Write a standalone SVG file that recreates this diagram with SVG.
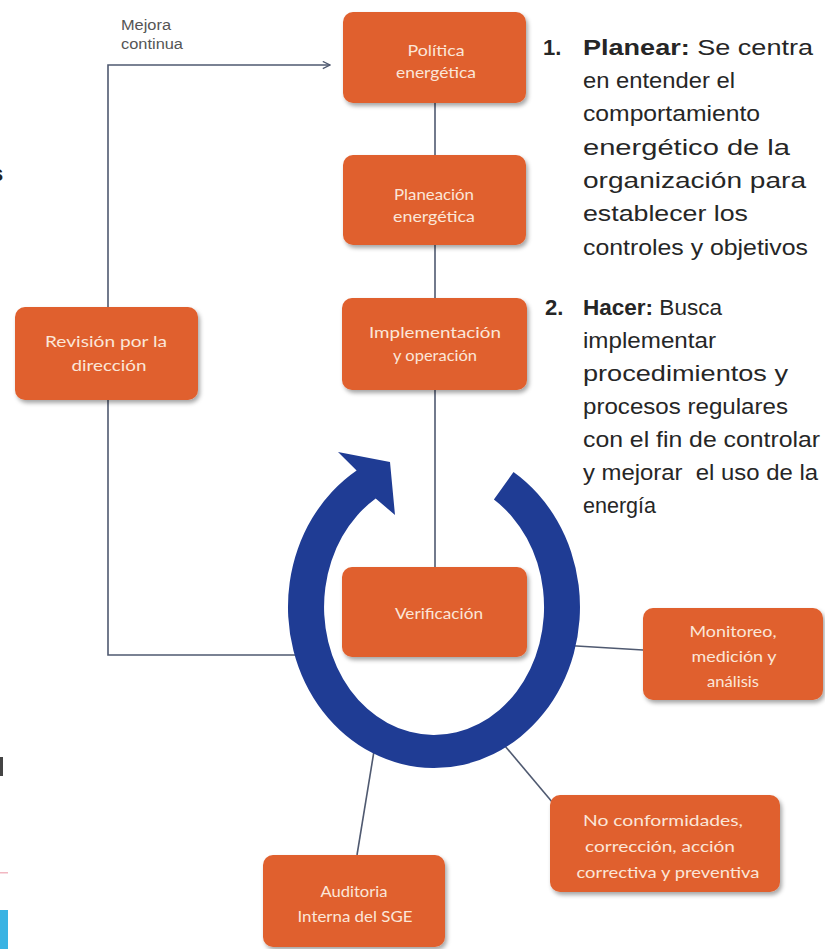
<svg xmlns="http://www.w3.org/2000/svg" width="825" height="949" viewBox="0 0 825 949">
  <style>
    .box { fill: #e0612f; filter: url(#shadow); }
    .lbl { font-family: Lato, "Open Sans", "Liberation Sans", sans-serif; font-size: 15px; fill: #fbe6d8; text-anchor: middle; lengthAdjust: spacingAndGlyphs; }
    .conn { fill: none; stroke: #4f5970; stroke-width: 1.6; }
    .note { font-family: "Liberation Sans", Arial, sans-serif; font-size: 22px; fill: #262626; }
    .num { font-weight: bold; }
    .small { font-family: "Liberation Sans", Arial, sans-serif; font-size: 14px; fill: #555; }
  </style>
  <defs>
    <filter id="shadow" x="-10%" y="-10%" width="125%" height="130%">
      <feDropShadow dx="2" dy="3" stdDeviation="2" flood-color="#000" flood-opacity="0.35"/>
    </filter>
    <marker id="open" viewBox="0 0 10 10" refX="9" refY="5" markerWidth="9" markerHeight="9" orient="auto" markerUnits="userSpaceOnUse">
      <path d="M1,1 L9,5 L1,9" fill="none" stroke="#4f5970" stroke-width="1.4"/>
    </marker>
  </defs>

  <rect width="825" height="949" fill="#ffffff"/>

  <!-- fragments of the neighbouring page at the left edge -->
  <text x="-9" y="181" font-family="Liberation Sans, Arial, sans-serif" font-size="22" font-weight="bold" fill="#222">s</text>
  <rect x="0" y="757" width="3" height="19" fill="#444"/>
  <rect x="0" y="872" width="8" height="1.5" fill="#f2b8c2"/>
  <rect x="0" y="910" width="8" height="39" fill="#3ab3e3"/>

  <!-- connectors -->
  <g id="connectors">
    <line class="conn" x1="435" y1="102" x2="435" y2="567"/>
    <polyline class="conn" points="305,655 108,655 108,65 330,65" marker-end="url(#open)"/>
    <line class="conn" x1="560" y1="645" x2="643" y2="650"/>
    <line class="conn" x1="500" y1="740" x2="553" y2="803"/>
    <line class="conn" x1="375" y1="745" x2="357" y2="855"/>
  </g>

  <!-- circular arrow around Verificación -->
  <g id="cycle">
    <path fill="#1f3c94" d="M513.5,472 A146,161 0 1 1 356.6,470.5 L338,452 L390,462 L395,515 L375.7,498.5 A110,128 0 1 0 493.9,499.6 Z"/>
  </g>

  <g id="mejora-label">
    <text class="small" x="121" y="30" textLength="50" lengthAdjust="spacingAndGlyphs">Mejora</text>
    <text class="small" x="121" y="49" textLength="62" lengthAdjust="spacingAndGlyphs">continua</text>
  </g>

  <g id="politica">
    <rect class="box" x="343" y="12" width="183" height="91" rx="10"/>
    <text class="lbl" x="436" y="56" textLength="57" lengthAdjust="spacingAndGlyphs">Política</text>
    <text class="lbl" x="436" y="78" textLength="80" lengthAdjust="spacingAndGlyphs">energética</text>
  </g>

  <g id="planeacion">
    <rect class="box" x="343" y="155" width="183" height="90" rx="10"/>
    <text class="lbl" x="434" y="200" textLength="80" lengthAdjust="spacingAndGlyphs">Planeación</text>
    <text class="lbl" x="434" y="222" textLength="82" lengthAdjust="spacingAndGlyphs">energética</text>
  </g>

  <g id="implementacion">
    <rect class="box" x="342" y="298" width="185" height="92" rx="10"/>
    <text class="lbl" x="435" y="338" textLength="132" lengthAdjust="spacingAndGlyphs">Implementación</text>
    <text class="lbl" x="435" y="361" textLength="84" lengthAdjust="spacingAndGlyphs">y operación</text>
  </g>

  <g id="verificacion">
    <rect class="box" x="342" y="567" width="185" height="90" rx="10"/>
    <text class="lbl" x="439" y="619" textLength="88" lengthAdjust="spacingAndGlyphs">Verificación</text>
  </g>

  <g id="revision">
    <rect class="box" x="15" y="307" width="183" height="93" rx="10"/>
    <text class="lbl" x="106" y="347" textLength="122" lengthAdjust="spacingAndGlyphs">Revisión por la</text>
    <text class="lbl" x="109" y="371" textLength="75" lengthAdjust="spacingAndGlyphs">dirección</text>
  </g>

  <g id="monitoreo">
    <rect class="box" x="643" y="608" width="180" height="92" rx="10"/>
    <text class="lbl" x="733" y="637" textLength="87" lengthAdjust="spacingAndGlyphs">Monitoreo,</text>
    <text class="lbl" x="734" y="662" textLength="85" lengthAdjust="spacingAndGlyphs">medición y</text>
    <text class="lbl" x="733" y="687" textLength="52" lengthAdjust="spacingAndGlyphs">análisis</text>
  </g>

  <g id="no-conformidades">
    <rect class="box" x="550" y="795" width="230" height="97" rx="10"/>
    <text class="lbl" x="663" y="826" textLength="160" lengthAdjust="spacingAndGlyphs">No conformidades,</text>
    <text class="lbl" x="660" y="852" textLength="150" lengthAdjust="spacingAndGlyphs">corrección, acción</text>
    <text class="lbl" x="668" y="878" textLength="183" lengthAdjust="spacingAndGlyphs">correctiva y preventiva</text>
  </g>

  <g id="auditoria">
    <rect class="box" x="263" y="855" width="182" height="92" rx="10"/>
    <text class="lbl" x="354" y="897" textLength="67" lengthAdjust="spacingAndGlyphs">Auditoria</text>
    <text class="lbl" x="355" y="922" textLength="115" lengthAdjust="spacingAndGlyphs">Interna del SGE</text>
  </g>

  <!-- notes on the right -->
  <g id="planear-note" class="note">
    <text x="543" y="55" class="num">1.</text>
    <text x="583" y="55" textLength="230" lengthAdjust="spacingAndGlyphs"><tspan class="num">Planear:</tspan> Se centra</text>
    <text x="583" y="88" textLength="152" lengthAdjust="spacingAndGlyphs">en entender el</text>
    <text x="583" y="121" textLength="177" lengthAdjust="spacingAndGlyphs">comportamiento</text>
    <text x="583" y="155" textLength="207" lengthAdjust="spacingAndGlyphs">energético de la</text>
    <text x="583" y="188" textLength="223" lengthAdjust="spacingAndGlyphs">organización para</text>
    <text x="583" y="221" textLength="165" lengthAdjust="spacingAndGlyphs">establecer los</text>
    <text x="583" y="255" textLength="225" lengthAdjust="spacingAndGlyphs">controles y objetivos</text>
  </g>

  <g id="hacer-note" class="note">
    <text x="545" y="315" class="num">2.</text>
    <text x="583" y="315" textLength="139" lengthAdjust="spacingAndGlyphs"><tspan class="num">Hacer:</tspan> Busca</text>
    <text x="583" y="348" textLength="133" lengthAdjust="spacingAndGlyphs">implementar</text>
    <text x="583" y="381" textLength="205" lengthAdjust="spacingAndGlyphs">procedimientos y</text>
    <text x="583" y="414" textLength="205" lengthAdjust="spacingAndGlyphs">procesos regulares</text>
    <text x="583" y="447" textLength="237" lengthAdjust="spacingAndGlyphs">con el fin de controlar</text>
    <text x="583" y="480" textLength="235" lengthAdjust="spacingAndGlyphs" xml:space="preserve">y mejorar  el uso de la</text>
    <text x="583" y="513" textLength="73" lengthAdjust="spacingAndGlyphs">energía</text>
  </g>
</svg>
